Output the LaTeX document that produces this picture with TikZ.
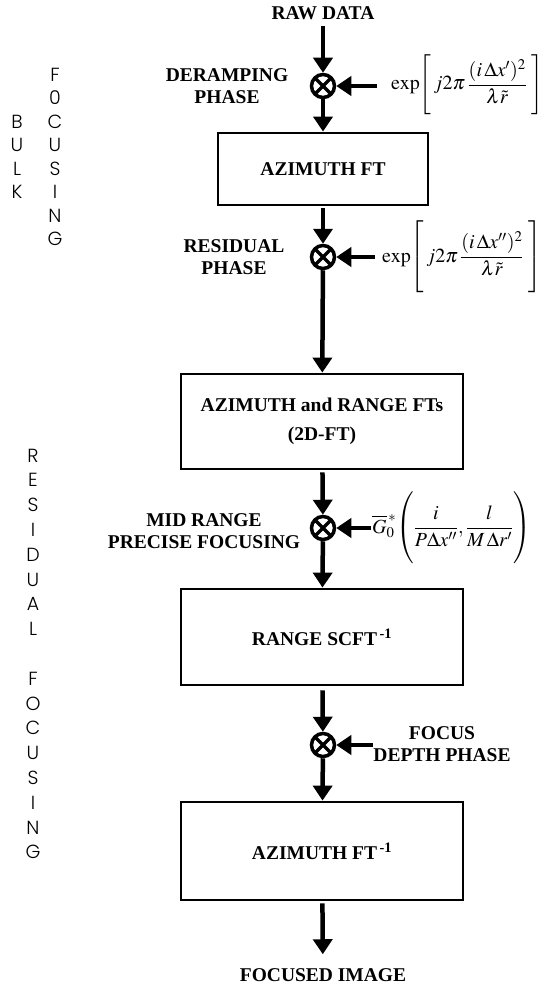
\documentclass[tikz,border=0pt]{standalone}
\usepackage{amsmath}
\usepackage{mathptmx}
\usepackage{fontspec}
\setmainfont{Liberation Serif}
\newfontfamily\sidefont{Poppins}[UprightFont=* Light]
\usetikzlibrary{arrows.meta}

\begin{document}
\begin{tikzpicture}[x=1pt,y=-1pt,
	flow/.style={line width=4.5pt,-{Triangle[width=19pt,length=15pt]}},
	mixer/.style={circle,draw,line width=3.5pt,minimum size=23pt,inner sep=0pt,
		path picture={\draw[line width=3.5pt] (path picture bounding box.south west) -- (path picture bounding box.north east)
			(path picture bounding box.north west) -- (path picture bounding box.south east);}},
	block/.style={draw,line width=2.8pt,minimum width=282pt,inner sep=0pt,align=center,
		font=\bfseries\fontsize{19.5}{29}\selectfont},
	lbl/.style={align=center,inner sep=0pt,font=\bfseries\fontsize{19.5}{22}\selectfont},
	eq/.style={anchor=west,inner sep=0pt,font=\fontsize{20}{24}\selectfont},
	side/.style={align=center,inner sep=0pt,font=\sidefont\fontsize{19}{23.5}\selectfont}]
			
			\useasboundingbox (0,0) rectangle (545,990);
			
			\node[side] (bulk) at (17,157) {B\\U\\L\\K};
			\node[side] (focus1) at (55,157) {F\\0\\C\\U\\S\\I\\N\\G};
			\node[side,font=\sidefont\fontsize{19}{24.8}\selectfont] (resfoc) at (33,654)
				{R\\E\\S\\I\\D\\U\\A\\L\\\mbox{}\\F\\O\\C\\U\\S\\I\\N\\G};
			
			\node[lbl] (raw) at (323,13) {RAW DATA};
			\node[mixer] (m1) at (323,86) {};
			\node[lbl] (deramp) at (227,86) {DERAMPING\\PHASE};
			\node[eq] (ph1) at (391,86) {$\exp\!\left[\,j2\pi\,\dfrac{(i\,\Delta x')^2}{\lambda\tilde r}\;\rule[-27pt]{0pt}{60pt}\right]$};
			\coordinate (s1) at (377,86);
			
			\node[block,minimum width=210pt,minimum height=72pt] (azft) at (323,169) {AZIMUTH FT};
			
			\node[mixer] (m2) at (323,257) {};
			\node[lbl] (resid) at (234,257) {RESIDUAL\\PHASE};
			\node[eq] (ph2) at (382,257) {$\exp\!\left[\,j2\pi\,\dfrac{(i\,\Delta x'')^2}{\lambda\tilde r}\;\rule[-29pt]{0pt}{64pt}\right]$};
			\coordinate (s2) at (375,257);
			
			\node[block,minimum height=95pt] (twod) at (322,421.5) {AZIMUTH and RANGE FTs\\(2D-FT)};
			
			\node[mixer] (m3) at (323,528) {};
			\node[lbl] (midrng) at (204,531) {MID RANGE\\PRECISE FOCUSING};
			\node[eq] (g0) at (372,528) {$\overline{G}_0^{\,*}\!\left(\dfrac{i}{P\Delta x''},\dfrac{l}{M\,\Delta r'}\rule[-30pt]{0pt}{66pt}\right)$};
			\coordinate (s3) at (371,528);
			
			\node[block,minimum height=96pt] (scft) at (322,637) {RANGE SCFT\textsuperscript{\,-1}};
			
			\node[mixer] (m4) at (323,745) {};
			\node[lbl] (fdepth) at (442,744) {FOCUS\\DEPTH PHASE};
			\coordinate (s4) at (373,745);
			
			\node[block,minimum height=98pt] (azinv) at (322,851) {AZIMUTH FT\textsuperscript{\,-1}};
			
			\node[lbl] (focimg) at (323,975) {FOCUSED IMAGE};
			
			\draw[flow,shorten <=6pt] (raw) -- (m1);
			\draw[flow] (s1) -- (m1);
			\draw[flow] (m1) -- (azft);
			\draw[flow,shorten <=2pt] (azft) -- (m2);
			\draw[flow] (s2) -- (m2);
			\draw[flow] (m2) -- (twod);
			\draw[flow,shorten <=2pt] (twod) -- (m3);
			\draw[flow] (s3) -- (m3);
			\draw[flow] (m3) -- (scft);
			\draw[flow,shorten <=4pt] (scft) -- (m4);
			\draw[flow] (s4) -- (m4);
			\draw[flow] (m4) -- (azinv);
			\draw[flow,shorten <=2pt,shorten >=14pt] (azinv) -- (focimg);
			
		\end{tikzpicture}
\end{document}
